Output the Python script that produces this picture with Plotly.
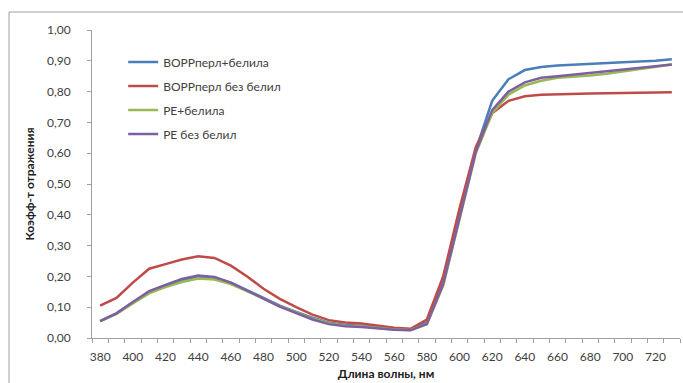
import plotly.graph_objects as go

wavelengths = [380, 390, 400, 410, 420, 430, 440, 450, 460, 470, 480, 490,
               500, 510, 520, 530, 540, 550, 560, 570, 580, 590, 600, 610,
               620, 630, 640, 650, 660, 670, 680, 690, 700, 710, 720, 730]

bopp_white = [0.055, 0.080, 0.115, 0.150, 0.170, 0.188, 0.200, 0.196, 0.180, 0.155, 0.130, 0.105,
              0.085, 0.066, 0.050, 0.042, 0.040, 0.035, 0.030, 0.028, 0.050, 0.180, 0.400, 0.610,
              0.770, 0.840, 0.870, 0.880, 0.885, 0.887, 0.890, 0.893, 0.895, 0.898, 0.900, 0.905]

bopp_nowhite = [0.105, 0.130, 0.180, 0.225, 0.240, 0.255, 0.265, 0.260, 0.235, 0.200, 0.160, 0.127,
                0.100, 0.076, 0.058, 0.050, 0.047, 0.040, 0.033, 0.030, 0.060, 0.200, 0.420, 0.620,
                0.730, 0.770, 0.785, 0.790, 0.792, 0.793, 0.794, 0.795, 0.795, 0.796, 0.797, 0.798]

pe_white = [0.055, 0.078, 0.112, 0.145, 0.165, 0.182, 0.193, 0.190, 0.175, 0.152, 0.128, 0.103,
            0.082, 0.063, 0.048, 0.040, 0.038, 0.033, 0.028, 0.026, 0.045, 0.170, 0.390, 0.600,
            0.730, 0.790, 0.820, 0.835, 0.845, 0.848, 0.852, 0.858, 0.865, 0.872, 0.880, 0.888]

pe_nowhite = [0.055, 0.080, 0.117, 0.152, 0.172, 0.192, 0.203, 0.198, 0.180, 0.155, 0.128, 0.102,
              0.080, 0.060, 0.045, 0.038, 0.036, 0.031, 0.027, 0.025, 0.045, 0.175, 0.395, 0.605,
              0.740, 0.800, 0.830, 0.845, 0.850, 0.855, 0.860, 0.865, 0.870, 0.875, 0.882, 0.888]

series_names = ["BOPPперл+белила", "BOPPперл без белил", "PE+белила", "PE без белил"]
series_values = [bopp_white, bopp_nowhite, pe_white, pe_nowhite]
series_colors = ["#4A7EBB", "#BE4B48", "#98B954", "#7D60A0"]

x_tick_vals = list(range(380, 721, 20))
y_tick_vals = [i / 10 for i in range(0, 11)]
y_tick_text = [f"{v:.2f}".replace(".", ",") for v in y_tick_vals]

FONT = "Lato, 'Open Sans', sans-serif"
legend_ids = ["legend", "legend2", "legend3", "legend4"]
legend_y = [0.896, 0.818, 0.740, 0.662]

fig = go.Figure()
for name, vals, col, lid in zip(series_names, series_values, series_colors, legend_ids):
    fig.add_trace(go.Scatter(x=wavelengths, y=vals, mode="lines", name=name,
                             legend=lid, line=dict(color=col, width=2.5)))

legend_common = dict(x=0.053, xanchor="left", yanchor="middle",
                     bgcolor="rgba(0,0,0,0)", font=dict(size=12, color="#404040"))

fig.update_layout(
    width=683, height=383,
    margin=dict(l=92, r=3, t=30, b=45),
    paper_bgcolor="white", plot_bgcolor="white",
    font=dict(family=FONT, size=12, color="#404040"),
    showlegend=True,
    xaxis=dict(range=[375, 735], tickvals=x_tick_vals, ticklen=0,
               showgrid=False, zeroline=False, showline=True,
               linecolor="#A0A0A0", linewidth=1, ticks="outside",
               ticklabelstandoff=8,
               tickfont=dict(size=12, color="#404040"),
               minor=dict(tickvals=list(range(375, 736, 10)), ticks="outside",
                          ticklen=4, tickcolor="#A0A0A0", showgrid=False),
               title=dict(text="<b>Длина волны, нм</b>", standoff=6,
                          font=dict(size=12, color="#202020"))),
    yaxis=dict(range=[0, 1.0], tickvals=y_tick_vals, ticktext=y_tick_text,
               showgrid=False, zeroline=False, showline=True,
               linecolor="#A0A0A0", linewidth=1, ticks="outside", ticklen=4,
               tickcolor="#A0A0A0", ticklabelstandoff=14,
               tickfont=dict(size=12, color="#404040"),
               title=dict(text="<b>Коэфф-т отражения</b>", standoff=9,
                          font=dict(size=12, color="#202020"))),
)
for lid, ly in zip(legend_ids, legend_y):
    fig.update_layout({lid: dict(legend_common, y=ly)})

fig.add_shape(type="rect", xref="paper", yref="paper",
              x0=(9 - 92) / 588, x1=1.2, y0=-0.3, y1=1 + (30 - 12) / 308,
              line=dict(color="#A0A0A0", width=1), layer="below")

fig.write_html("out.html")
